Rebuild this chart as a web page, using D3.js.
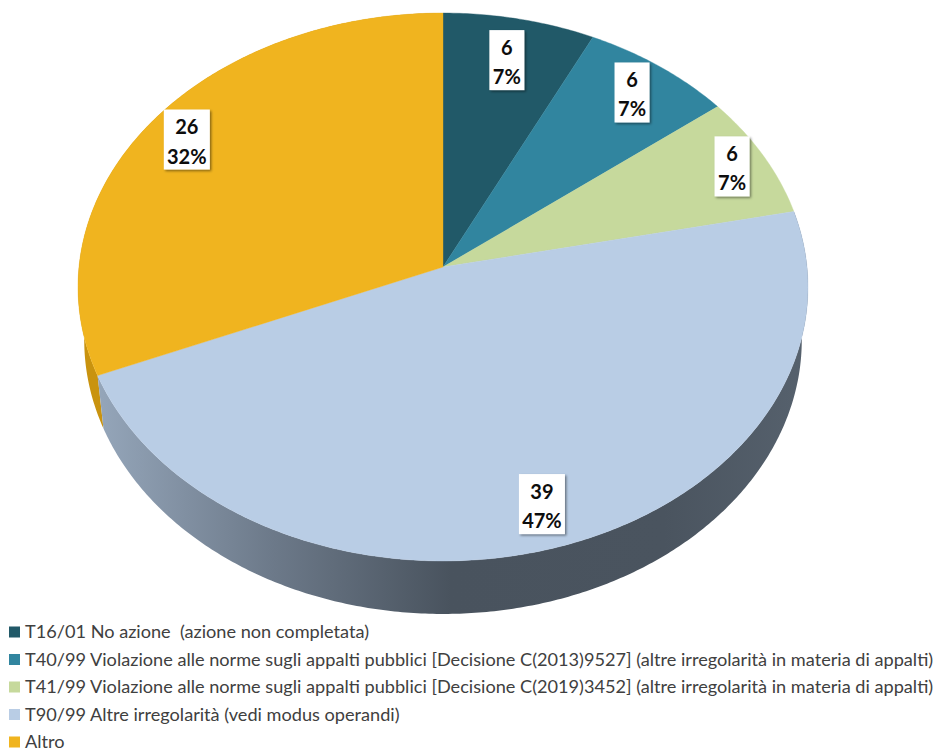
<!DOCTYPE html>
<html><head><meta charset="utf-8">
<script src="https://cdn.jsdelivr.net/npm/d3@7"></script>
<style>html,body{margin:0;padding:0;background:#fff;overflow:hidden}svg{display:block}text{white-space:pre}</style>
</head><body><svg id="c" width="934" height="753"></svg>
<script>
const categories=["T16/01 No azione  (azione non completata)",
"T40/99 Violazione alle norme sugli appalti pubblici [Decisione C(2013)9527] (altre irregolarità in materia di appalti)",
"T41/99 Violazione alle norme sugli appalti pubblici [Decisione C(2019)3452] (altre irregolarità in materia di appalti)",
"T90/99 Altre irregolarità (vedi modus operandi)",
"Altro"];
const values=[6,6,6,39,26];
const percents=["7%","7%","7%","47%","32%"];
const colors=["#215968","#31859f","#c6d99c","#b9cde5","#f0b41f"];
const labelRadius=[.825,.865,.9,.857,.875];

const svg=d3.select("#c");
const cx=443,cy=267,ax=364,ay=272.5,k=.073,depth=53,shrink=.983;
const font="Lato, Carlito, sans-serif";
// perspective projection of the tilted disc
const project=(t,r=1)=>{const u=Math.sin(t)*r,v=-Math.cos(t)*r,w=1-k*v;return [cx+ax*u/w,cy+ay*v/w];};
const below=p=>[cx+(p[0]-cx)*shrink,p[1]+depth];
const arcs=d3.pie().sort(null).value(d=>d)(values);
const line=d3.line();
const edge=a=>{const n=Math.ceil((a.endAngle-a.startAngle)/.01);return d3.range(n+1).map(i=>project(a.startAngle+(a.endAngle-a.startAngle)*i/n));};

const defs=svg.append("defs");
const g=defs.append("linearGradient").attr("id","wall").attr("gradientUnits","userSpaceOnUse").attr("x1",97).attr("x2",805).attr("y1",0).attr("y2",0);
[[0,"#95a6ba"],[.25,"#6c7989"],[.5,"#49535e"],[.8,"#4a545f"],[1,"#56616d"]].forEach(s=>g.append("stop").attr("offset",s[0]).attr("stop-color",s[1]));
const f=defs.append("filter").attr("id","sh").attr("x","-20%").attr("y","-20%").attr("width","150%").attr("height","150%");
f.append("feDropShadow").attr("dx",1.5).attr("dy",1.5).attr("stdDeviation",1.2).attr("flood-color","#000").attr("flood-opacity",.45);

// side walls
svg.append("path").attr("d",line([...edge(arcs[4]),...edge(arcs[4]).map(below).reverse()])+"Z").attr("fill","#c9930f");
svg.append("path").attr("d",line([...edge(arcs[3]),...edge(arcs[3]).map(below).reverse()])+"Z").attr("fill","url(#wall)");
// top faces
svg.selectAll("path.top").data(arcs).join("path").attr("class","top")
  .attr("d",a=>line([[cx,cy],...edge(a)])+"Z")
  .attr("fill",(a,i)=>colors[i]).attr("stroke",(a,i)=>colors[i]).attr("stroke-width",.4);

// value labels
arcs.forEach((a,i)=>{
  const p=project((a.startAngle+a.endAngle)/2,labelRadius[i]);
  const w=i>2?46:35,h=60;
  const l=svg.append("g").attr("transform",`translate(${p[0]},${p[1]})`);
  l.append("rect").attr("x",-w/2).attr("y",-h/2).attr("width",w).attr("height",h).attr("fill","#fff").attr("filter","url(#sh)");
  l.selectAll("text").data([values[i],percents[i]]).join("text")
    .attr("text-anchor","middle").attr("y",(d,j)=>j?24:-5.5).attr("font-family",font)
    .attr("font-weight",700).attr("font-size",20).attr("fill","#0d0d0d").text(d=>d);
});

// legend
const ly=d3.scalePoint().domain(categories).range([632,742]);
categories.forEach((c,i)=>{
  svg.append("rect").attr("x",9).attr("y",ly(c)-5.5).attr("width",11).attr("height",11).attr("fill",colors[i]);
  svg.append("text").attr("x",25).attr("y",ly(c)+6).attr("font-family",font).attr("font-size",18.15).attr("fill","#404040").text(c);
});
</script></body></html>
